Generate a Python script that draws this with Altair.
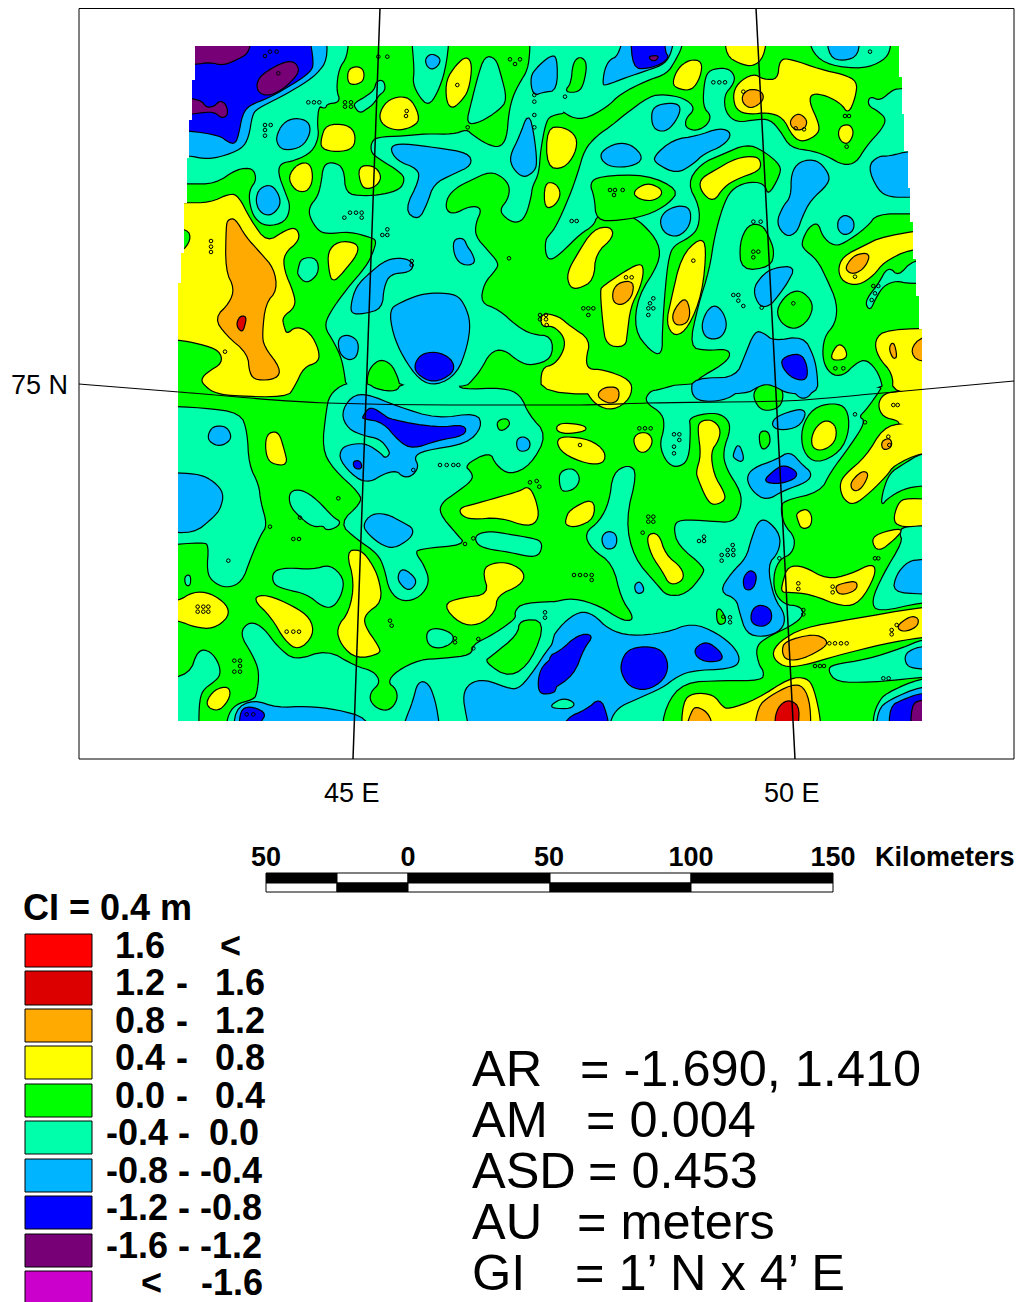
import altair as alt

FONT = "Liberation Sans"
# colour classes, legend order
LEGEND_COLORS = ["#ff0000", "#dd0000", "#ffaa00", "#ffff00", "#00ff00", "#00ffaa", "#00b4ff", "#0000ff", "#770077", "#cc00cc"]
LEGEND_LEFT = ["1.6", "1.2", "0.8", "0.4", "0.0", "-0.4", "-0.8", "-1.2", "-1.6", "<"]
LEGEND_DASH = ["", "-", "-", "-", "-", "-", "-", "-", "-", ""]
LEGEND_RIGHT = ["<", "1.6", "1.2", "0.8", "0.4", "0.0", "-0.4", "-0.8", "-1.2", "-1.6"]
LEGEND_TOPS = [934, 971, 1009, 1046, 1084, 1121, 1159, 1196, 1234, 1271]
LEGEND_BOTTOMS = [967, 1005, 1042, 1079, 1117, 1154, 1192, 1229, 1267, 1304]

# quadrant origins of the traced outlines (traced at 3x)
ORIGINS = {"NW": (170, 40), "NE": (550, 40), "SW": (170, 385), "SE": (550, 385)}

AQUA = {
"NW": [
"-30,-20 535,-20 530,50 505,85 497,150 510,185 470,190 465,205 445,195 440,250 445,290 425,335 375,360 330,368 322,400 345,460 360,500 345,545 290,558 255,535 240,490 240,450 262,420 250,382 200,385 135,430 55,430 -30,430",
"555,190 590,170 615,150 620,125 640,122 645,150 625,165 610,190 590,205 570,218 555,200",
"725,-20 735,90 730,130 750,170 775,195 800,160 825,90 838,-20",
"945,50 975,55 990,100 1010,180 985,210 930,245 890,252 905,190 925,110",
"1080,-20 1082,30 1075,90 1050,130 1030,170 1018,220 1012,295 990,325 950,315 905,285 890,270 850,285 770,283 700,290 620,293 605,310 605,335 620,350 700,400 705,425 690,450 640,465 580,470 525,462 520,385 490,368 462,375 455,430 445,470 420,500 420,530 445,570 470,580 540,573 600,590 622,600 610,640 590,680 530,750 480,820 465,860 490,900 515,950 525,1000 530,1040 590,1040 590,1010 600,980 630,955 665,970 685,1010 692,1040 885,1040 905,1020 930,990 960,935 1000,925 1050,965 1085,975 1145,955 1145,890 1085,885 1040,860 985,810 930,790 940,730 975,690 985,670 950,630 915,590 915,550 935,505 900,500 850,525 825,510 830,470 860,440 900,420 960,392 1000,410 1022,440 1015,480 990,510 1010,535 1040,548 1065,530 1082,470 1085,440 1105,400 1110,330 1125,250 1140,225 1200,215 1200,-20",
"385,690 395,655 440,655 445,700 410,730 385,705",
],
"NE": [
"-60,-20 398,-20 395,20 375,60 350,100 290,120 210,160 170,200 100,238 50,225 20,190 0,220 -60,215",
"775,-20 790,40 840,75 940,85 1000,60 1020,30 1020,-20",
"0,585 20,560 60,470 85,400 105,330 140,290 190,255 225,225 300,170 340,165 400,175 435,205 405,235 405,265 440,275 475,255 485,225 460,200 465,120 480,90 530,85 552,105 550,130 520,165 525,220 560,250 620,240 660,240 690,275 720,325 790,335 830,350 880,378 920,370 950,320 1000,265 1010,235 985,212 955,195 960,170 990,185 1030,150 1055,148 1200,130 1200,520 1085,520 980,520 950,560 880,610 850,615 820,590 805,545 775,560 755,600 755,625 800,660 830,720 860,790 855,850 820,890 815,960 840,1005 880,1010 920,970 950,960 985,1000 1000,1060 420,1060 440,1020 520,975 545,945 530,925 470,930 420,920 445,800 480,690 495,590 520,500 545,450 590,428 640,430 655,470 690,410 695,375 640,330 590,310 520,340 450,370 410,430 447,500 445,560 420,590 370,615 355,650 345,730 335,870 335,945 300,930 255,870 265,770 330,670 330,610 280,550 240,525 205,520 140,525 130,555 90,580 30,640 0,660 -12,640 -12,600",
"1200,650 1090,660 1045,712 1015,680 985,735 960,765 948,790 960,810 975,775 1000,735 1040,720 1075,730 1200,725",
],
"SW": [
"-30,65 100,70 210,85 230,140 235,240 265,300 270,350 290,420 270,450 240,520 215,590 170,608 130,590 112,560 118,480 100,470 -30,480",
"525,-5 480,30 470,80 458,190 490,250 572,325 575,355 510,415 560,460 625,505 645,550 660,620 700,650 750,635 778,590 760,540 735,505 745,490 885,478 860,450 805,385 815,350 860,320 905,285 905,265 880,240 960,197 980,240 1020,268 1080,240 1130,150 1075,90 1050,30 1000,10 870,15 865,-5 695,-5 680,22 620,15 590,-5",
"360,320 395,315 440,345 490,400 510,410 500,425 470,435 460,420 430,425 390,395 360,360",
"918,450 960,440 1020,450 1080,460 1115,470 1110,505 1085,515 1020,500 950,490 920,475",
"310,560 350,550 430,555 480,540 520,580 515,625 490,665 460,665 410,625 340,610 310,595",
"-30,885 60,870 85,795 120,800 145,835 150,870 130,890 95,915 85,960 85,1060 -30,1060",
"210,745 240,710 280,730 320,785 375,830 470,795 555,845 610,860 630,892 600,920 598,950 625,975 660,978 685,945 680,910 655,892 680,860 750,825 820,822 905,812 910,780 960,755 1000,730 1040,700 1035,680 1060,655 1200,650 1200,1060 170,1060 172,1000 195,960 250,945 262,930 270,860 250,810",
"45,575 60,570 60,600 48,600",
"770,740 800,730 845,745 850,770 810,790 775,780",
],
"SE": [
"-60,655 0,655 70,640 150,665 210,705 245,710 250,690 215,640 190,535 125,490 105,445 150,410 180,350 190,265 235,240 260,265 225,405 250,520 320,600 350,635 410,630 460,570 465,545 385,480 372,425 390,405 480,410 550,415 575,370 575,320 530,250 520,200 545,130 530,95 490,80 415,95 420,130 415,225 380,247 350,230 330,180 345,130 340,85 285,50 300,20 330,15 400,-5 1000,-5 975,35 945,75 925,95 945,110 900,180 840,260 810,320 700,345 690,370 700,420 735,460 725,505 690,520 670,560 670,620 700,660 750,665 760,690 725,720 640,760 615,790 625,840 640,860 635,885 520,885 400,890 345,960 330,1060 -60,1060",
"30,260 70,250 90,280 75,310 40,320 30,300",
"995,360 1000,320 1020,265 1060,240 1115,205 1200,200 1200,300 1115,300 1060,310 1010,340",
"1200,415 1060,425 1050,445 1060,470 1000,570 965,650 985,680 1115,650 1200,650",
"835,855 850,840 950,825 1060,790 1115,765 1200,760 1200,870 1115,875 1020,885 960,890 860,890",
"975,1060 970,1000 985,955 1010,925 1115,880 1200,880 1200,1060",
],
}

GREEN = {
"NE": [
"45,155 65,130 70,70 90,50 110,70 100,130 85,155",
"120,430 150,410 290,405 385,450 355,490 290,525 205,540 140,540 135,470",
"570,610 595,555 635,555 655,590 672,635 660,680 575,690",
"680,810 710,765 750,750 790,790 775,840 735,868 695,850",
],
"SW": [
"945,830 965,815 1045,750 1050,705 1125,708 1085,825 1020,878",
"980,110 1010,100 1020,120 990,140",
],
"SE": [
"610,30 625,5 650,-10 680,-5 700,25 690,65 650,77 625,65",
"755,130 790,70 850,55 890,70 897,135 870,200 800,235 760,200",
"630,140 655,140 660,175 640,195 630,175",
"500,680 510,670 530,710 505,720",
],
}

BLUE = {
"NW": [
"-30,-20 468,-20 470,60 440,100 400,130 330,170 260,205 245,225 235,290 215,325 150,350 100,355 60,345 -30,345",
"320,290 340,250 375,235 415,245 420,280 395,320 345,330 325,315",
"258,480 270,445 305,435 328,470 328,500 300,527 270,515",
"660,320 700,312 800,325 895,340 905,375 850,400 790,430 770,490 745,540 705,510 750,420 745,385 680,360",
"1020,350 1050,290 1075,220 1090,280 1100,370 1090,395 1060,412 1030,385",
"1082,110 1105,80 1140,50 1160,50 1160,150 1120,155 1090,165",
"768,55 785,42 810,55 805,75 785,88 770,75",
"850,600 880,595 890,620 905,640 915,670 880,675 855,650",
"660,810 690,790 750,765 800,760 860,765 885,800 900,850 890,920 860,1000 800,1035 750,1020 700,950 670,880",
"545,790 560,740 600,700 650,660 700,655 730,670 720,695 660,700 640,740 635,805 580,820 545,820",
"505,895 535,885 565,905 560,950 535,960 510,940",
],
"NE": [
"160,130 165,90 180,60 205,50 225,-20 370,-20 365,30 345,70 290,90 230,110 165,135",
"305,215 325,195 375,190 392,205 375,245 345,275 310,265",
"155,335 200,310 245,315 280,355 245,378 185,380 155,360",
"312,350 370,300 440,290 510,265 545,280 520,315 460,340 430,370 380,400 320,370",
"330,545 345,515 385,498 420,505 420,555 385,590 345,580",
"455,860 470,815 495,795 520,820 530,860 510,895 470,895",
"610,750 635,710 670,685 735,680 710,730 680,770 660,795 630,800",
"680,550 700,500 725,470 725,400 750,365 800,360 835,400 835,430 780,480 755,530 740,575 710,590",
"955,380 985,350 1020,350 1075,335 1200,335 1200,470 1085,470 1020,470 985,450",
"865,540 885,525 910,540 910,570 885,585 865,570",
"830,-20 925,-20 925,45 880,62 840,50",
"440,1060 470,1020 560,1010 585,950 615,875 640,880 670,905 760,890 790,950 800,1000 802,1060 715,1060 680,1040 650,1030 620,1040 590,1060",
],
"SW": [
"25,265 90,270 130,290 160,325 150,370 130,395 70,445 -30,435 -30,265",
"115,150 130,125 165,125 180,145 180,165 150,183 120,170",
"515,85 545,35 590,28 680,65 800,103 920,85 935,125 890,175 760,195 730,215 745,245 725,272 700,275 680,255 640,265 600,290 560,280 510,225 515,190 550,178 590,178 630,205 645,222 662,208 655,190 630,160 580,150 535,130",
"580,420 605,388 650,388 700,415 730,432 720,460 670,490 630,475 595,445",
"683,580 695,552 720,565 740,590 720,615 700,605",
"690,1060 710,1000 730,950 745,890 775,895 795,950 805,1010 810,1060",
"195,1060 195,975 250,945 320,970 410,965 500,975 590,1000 600,1060",
"880,930 900,895 945,885 1010,910 1045,915 1085,870 1140,785 1200,720 1200,1060 905,1060 890,990",
"1040,165 1060,155 1080,170 1075,195 1045,198",
],
"SE": [
"430,-20 580,-20 565,20 520,45 450,48 425,25",
"715,-20 800,-20 785,25 760,42 735,25",
"665,120 680,95 750,72 768,85 745,125 690,135",
"590,280 610,250 680,225 720,200 755,240 785,265 770,290 700,315 650,345 610,320",
"605,465 625,410 650,405 690,450 685,500 650,540 670,640 705,690 695,735 640,755 590,745 570,680 560,640 510,620 545,565 590,520",
"155,460 170,440 195,445 200,470 190,490 165,490",
"550,210 565,175 580,215 575,230 555,220",
"0,770 40,715 90,680 130,690 175,735 240,755 350,745 425,715 500,745 555,790 570,830 540,850 420,855 370,880 340,905 250,945 205,965 178,1005 178,1060 0,1060",
"1065,820 1075,800 1115,785 1200,785 1200,860 1115,850 1075,845",
"978,1060 985,975 1020,945 1115,905 1200,905 1200,1060",
"1030,620 1040,570 1075,530 1115,525 1200,525 1200,630 1115,625",
"255,600 270,590 282,615 270,625 258,620",
],
}

AQUA_TOP = {
"SE": ["5,960 40,940 75,955 60,970 10,968"],
}

DARK_BLUE = {
"NW": [
"-30,-20 415,-20 430,70 420,95 370,130 300,170 235,195 215,225 205,280 195,310 175,305 150,285 57,270 -30,270",
"735,970 760,940 810,938 850,965 848,1000 790,1028 740,1000",
],
"NE": [
"243,-20 340,-20 345,40 355,50 335,70 290,85 250,82",
"695,955 750,940 770,975 770,1020 730,1015 700,985",
],
"SW": [
"580,95 600,65 640,90 660,105 800,130 885,120 885,150 800,165 730,190 690,170 640,110 580,100",
"550,230 570,228 575,250 555,250",
"210,1060 210,985 230,965 270,975 285,990 270,1010 260,1060",
"1105,890 1115,850 1140,825 1160,815 1160,915 1140,925 1110,925",
],
"SE": [
"-5,815 30,800 85,750 130,750 100,790 70,870 0,915 -5,925",
"215,830 235,795 285,785 335,795 355,840 340,885 290,915 240,905 215,865",
"435,790 470,770 510,800 518,825 470,830 440,815",
"30,1060 50,1000 110,975 150,940 170,990 180,1060",
"640,290 670,260 700,240 740,260 735,280 690,295",
"580,580 600,555 620,570 610,610 585,615",
"605,680 625,660 660,670 665,705 640,725 605,715",
"1020,1060 1020,965 1060,945 1115,925 1200,925 1200,1060",
],
}

PURPLE = {
"NW": [
"-30,-20 245,-20 235,38 205,55 160,75 120,65 75,72 -30,72",
"260,135 275,105 335,70 370,65 385,85 380,105 340,145 300,165 270,160",
"-30,172 90,178 108,205 135,200 150,183 168,195 172,225 155,233 135,215 100,215 -30,235",
],
"NE": ["297,50 325,48 318,60 305,60"],
"SE": ["1085,1060 1085,960 1115,945 1200,945 1200,1060"],
}

YELLOW = {
"NW": [
"535,90 560,80 580,90 580,120 560,132 535,130",
"830,120 860,75 890,50 905,75 895,150 870,185 845,205 830,180",
"628,225 650,185 690,170 725,180 750,240 720,262 680,270 640,255",
"455,295 470,255 530,255 555,280 550,325 500,335 455,325",
"355,410 385,372 420,370 428,420 410,455 375,450",
"565,380 610,378 632,405 625,430 600,445 575,440",
"475,635 505,605 560,610 563,640 515,700 488,725 478,690",
"-30,490 42,490 120,490 180,462 205,470 240,540 290,610 350,570 380,565 388,600 340,640 340,690 370,760 375,800 335,830 340,860 350,885 380,860 420,880 445,930 445,965 400,980 372,1040 350,1070 180,1066 130,1055 105,1035 95,1020 110,1000 160,970 150,930 90,910 25,898 -30,898 -30,640 35,640 65,600 55,565 -30,560",
],
"NE": [
"-8,265 40,262 80,290 75,340 40,385 -8,380",
"-15,430 15,430 32,460 15,495 -15,505",
"368,130 385,85 420,60 455,65 450,110 425,150 385,145",
"527,-20 650,-20 640,50 610,78 570,70 530,45",
"550,165 565,130 610,102 640,120 685,120 690,60 720,58 810,90 880,105 920,125 915,170 895,220 875,190 830,165 785,158 775,185 805,250 805,280 760,305 730,290 700,230 650,215 600,222 560,210",
"450,420 490,395 560,355 620,350 632,370 625,392 560,415 520,440 490,485 455,455",
"160,740 210,705 270,670 280,690 270,740 240,800 230,880 225,920 170,915 160,850 152,750",
"250,455 290,430 330,445 335,465 305,482 265,475",
"52,700 85,640 130,570 180,560 190,590 135,640 130,720 85,745 60,740",
"365,780 395,650 450,595 468,620 455,760 415,860 375,890 350,850",
"975,900 1010,870 1200,865 1200,1060 1030,1060 1030,1000 985,950",
"865,690 880,650 940,620 1000,590 1200,560 1200,620 1080,625 1000,665 970,705 925,735 880,725",
"865,280 875,258 900,255 910,280 895,310 875,305",
"845,945 865,912 885,925 890,955 850,960",
"-25,820 25,830 60,860 120,900 105,960 115,990 160,990 240,1020 245,1060 -25,1060 -25,985 15,975 45,930 45,890 10,855 -25,860",
],
"SW": [
"288,165 300,143 325,143 340,190 352,240 305,235 290,210",
"870,370 910,360 980,340 1050,320 1075,305 1095,340 1107,400 1075,425 990,395 905,402 875,390",
"25,650 70,622 120,625 170,660 175,695 130,730 75,725 25,705 -30,700 -30,650",
"248,640 290,630 370,665 420,700 430,750 385,795 345,765 305,695",
"530,500 570,495 600,530 625,580 635,650 585,685 580,720 625,785 630,805 560,820 515,780 500,730 540,680 555,590",
"820,660 870,640 960,630 938,555 970,535 1020,535 1065,565 1050,600 980,630 975,680 925,720 870,715",
"110,950 135,915 175,905 180,935 150,975 120,970",
],
"SE": [
"100,-10 245,-10 240,40 190,75 140,60 110,20",
"985,60 1000,30 1030,22 1200,0 1200,115 1050,120 1045,105 1000,95",
"870,300 885,270 950,215 1000,130 1060,115 1200,110 1200,200 1115,200 1030,240 1010,270 960,320 910,360 880,340",
"1030,410 1045,355 1070,340 1200,350 1200,420 1115,420 1060,425",
"965,465 990,445 1060,430 1035,460 985,500",
"695,620 700,590 715,545 760,545 830,585 900,570 970,535 975,570 930,650 880,665 780,625 715,620",
"665,810 690,770 760,730 900,705 1115,668 1200,665 1200,750 1115,755 1000,775 860,810 760,840 700,845",
"395,1060 400,950 430,925 490,930 515,965 535,975 620,945 720,880 770,880 790,910 810,1000 810,1060",
"20,125 40,115 100,122 110,135 60,145 25,140",
"20,170 40,155 120,165 165,200 160,235 110,235 40,205",
"250,165 265,145 295,145 308,170 290,200 265,200",
"445,135 450,110 485,105 510,130 505,165 480,200 490,270 520,320 525,345 490,360 470,340 445,280 440,260 455,210",
"48,405 60,375 130,340 132,400 80,425 50,420",
"785,160 800,125 830,105 858,125 855,170 820,195 790,190",
"740,385 770,372 785,395 780,425 755,430 745,405",
"290,450 325,445 345,510 395,550 400,585 360,600 340,560 305,510",
],
}

ORANGE = {
"NW": ["170,560 175,540 195,537 225,590 270,640 310,685 320,750 285,790 275,880 280,920 330,985 320,1015 260,1020 240,1000 235,940 170,885 135,835 180,790 195,745 168,690"],
"NE": [
"578,165 600,148 635,155 640,180 605,205 580,190",
"722,240 745,220 770,240 765,262 745,270 725,260",
"190,750 210,728 250,725 245,770 215,795 190,785",
"367,820 405,770 420,815 410,850 375,855",
"888,680 915,645 960,640 945,680 915,700 895,695",
"1018,925 1030,905 1040,950 1030,955",
"1082,930 1115,890 1200,890 1200,960 1105,965",
],
"SE": [
"145,25 165,8 205,8 205,45 180,55 150,40",
"905,290 935,260 955,265 940,300 920,318 905,310",
"995,170 1020,160 1025,185 1000,195",
"855,605 885,595 920,590 918,615 870,630",
"697,800 705,770 790,748 830,765 825,785 760,820 710,825",
"1040,725 1080,695 1105,700 1100,725 1060,740",
"400,1060 425,980 440,965 480,990 490,1060",
"612,1060 625,965 660,935 725,900 760,905 780,960 780,1060",
],
}

DARK_RED = {
"NW": ["200,855 210,830 228,830 222,860 215,875"],
"SE": ["675,1000 690,960 720,945 750,970 735,1060 680,1060"],
}

# small closed contours
RINGS = {
"NW": "285,48 300,35 320,35 285,255 302,255 285,270 285,287 625,50 652,50 1020,58 1050,58 1035,72 415,187 432,187 448,187 525,187 543,187 525,200 543,200 1093,165 1093,185 1093,225 1093,262 893,262 123,603 123,620 123,636 540,518 558,518 575,518 523,533 575,533 652,568 652,585 637,585 725,663 725,675 165,935 1110,825 1128,825 1110,838 1128,838 1130,855 1017,655 862,135 710,213 708,228 325,100",
"NE": "508,127 490,127 525,127 45,170 960,35 65,543 80,543 610,545 632,545 610,635 625,635 610,652 115,805 100,805 130,805 115,825 300,790 310,775 295,805 310,805 295,825 565,782 550,765 565,765 580,798 635,803 885,228 897,228 890,320 856,985 880,985 730,790 580,155 737,265 762,268 245,712 228,712 180,450 195,450 218,450 192,465 430,662 915,710 970,738 985,738 975,760 965,780",
"SW": "810,240 830,240 850,240 865,240 1080,292 1100,288 1108,305 100,665 83,665 115,665 83,680 100,680 115,680 175,527 370,462 387,462 505,340 300,425 193,827 210,827 210,843 210,860 193,860 230,988 250,988 370,740 387,740 350,740 855,760 855,772 910,790 925,762 885,477 910,460 660,707 665,722 1125,682 1125,698 730,255 390,398",
"SE": "1043,60 1030,60 285,130 268,130 302,130 90,180 372,148 388,148 372,185 372,205 388,165 295,395 310,395 295,410 310,410 278,443 462,455 447,468 462,468 90,570 107,570 125,570 72,570 125,585 548,480 533,495 550,495 515,510 533,510 550,510 515,527 745,595 745,612 848,605 848,622 838,775 855,775 873,775 890,775 520,695 540,697 540,712 1015,155 1018,180 1040,720 1025,735 1025,748 1000,880 1016,880 810,843 795,843 822,843 915,88 945,112 985,520 975,520 688,520 760,675 760,688",
}

# outline of the gridded area (stepped edges)
DOMAIN = "195,46 899,46 899,77 902,77 902,114 904,114 904,151 908,151 908,188 910,188 910,222 913,222 913,259 916,259 916,296 919,296 919,329 922,329 922,721 178,721 178,283 181,283 181,253 184,253 184,203 187,203 187,158 189,158 189,120 192,120 192,80 195,80"
FRAME = "79,8.5 1014,8.5 1014,759 79,759"

# graticule
MERIDIAN_45_X = [380, 353]
MERIDIAN_45_Y = [8, 759]
MERIDIAN_50_X = [756, 795]
MERIDIAN_50_Y = [8, 759]
PARALLEL_X = [79, 179, 327, 450, 580, 647, 783, 883, 1014]
PARALLEL_Y = [384, 392, 403, 405, 405, 403, 401, 393, 381]

# scale bar
BAR_LABELS = ["50", "0", "50", "100", "150"]
BAR_EDGES = [266, 337, 408, 550, 691, 833]
BAR_LABEL_X = [266, 408, 549, 691, 833]

# statistics block
STAT_NAMES = ["AR", "AM", "ASD", "AU", "GI"]
STAT_VALUES = ["= -1.690, 1.410", "= 0.004", "= 0.453", "= meters", "= 1’ N x 4’ E"]
STAT_VALUE_X = [580, 586, 588, 577, 575]
STAT_BASE_Y = [1086, 1137, 1188, 1239, 1290]


def pts(s):
    return [[float(v) for v in p.split(",")] for p in s.split()]


def round_corners(r, passes=2):
    # rounds polygon corners when drawn (geoshape has no curve interpolation)
    for _ in range(passes):
        out = []
        for i, a in enumerate(r):
            b = r[(i + 1) % len(r)]
            out.append([0.75 * a[0] + 0.25 * b[0], 0.75 * a[1] + 0.25 * b[1]])
            out.append([0.25 * a[0] + 0.75 * b[0], 0.25 * a[1] + 0.75 * b[1]])
        r = out
    return r


def feature(rings):
    return {"type": "Feature", "properties": {}, "geometry": {"type": "Polygon", "coordinates": rings}}


def area(r):
    return sum(r[i][0] * r[(i + 1) % len(r)][1] - r[(i + 1) % len(r)][0] * r[i][1] for i in range(len(r)))


def closed(r):
    return r + [r[0]]


def page_features(table):
    out = []
    for q, polys in table.items():
        ox, oy = ORIGINS[q]
        for s in polys:
            r = [[ox + x / 3, oy + y / 3] for x, y in pts(s)]
            out.append(feature([closed(round_corners(r))]))
    return out


PROJ = dict(type="identity", scale=1, translate=[-8, -8])


def geo(features, fill, stroke=None, sw=2.4):
    data = alt.InlineData(values={"type": "FeatureCollection", "features": features},
                          format=alt.DataFormat(type="json", property="features"))
    kw = dict(fill=fill)
    if stroke:
        kw.update(stroke=stroke, strokeWidth=sw, strokeJoin="round")
    else:
        kw.update(strokeWidth=0)
    return alt.Chart(data).mark_geoshape(**kw).project(**PROJ)


PAGE_BOTTOM = 1302
PAGE_RIGHT = 1015
X = dict(scale=alt.Scale(domain=[8, PAGE_RIGHT], nice=False, zero=False), axis=None)
Y = dict(scale=alt.Scale(domain=[PAGE_BOTTOM, 8], nice=False, zero=False), axis=None)

layers = []
# base level
layers.append(geo([feature([closed(pts(DOMAIN))])], "#00ff00"))
for table, color in [(AQUA, "#00ffaa"), (GREEN, "#00ff00"), (BLUE, "#00b4ff"), (AQUA_TOP, "#00ffaa"),
                     (DARK_BLUE, "#0000ff"), (PURPLE, "#770077"), (YELLOW, "#ffff00"),
                     (ORANGE, "#ffaa00"), (DARK_RED, "#dd0000")]:
    fs = page_features(table)
    layers.append(geo(fs, color, "black"))
    layers.append(geo(fs, color))

# small rings
ring_rows = []
for q, s in RINGS.items():
    ox, oy = ORIGINS[q]
    ring_rows += [{"x": ox + x / 3, "y": oy + y / 3} for x, y in pts(s)]
layers.append(alt.Chart(alt.Data(values=ring_rows)).mark_point(size=13, filled=False, color="black", strokeWidth=1, opacity=1)
              .encode(x=alt.X("x:Q", **X), y=alt.Y("y:Q", **Y)))

# white mask outside the gridded area
outer = [[79, 8], [1014, 8], [1014, 759], [79, 759]]
inner = pts(DOMAIN)
if area(outer) * area(inner) > 0:
    inner = inner[::-1]
layers.append(geo([feature([closed(outer), closed(inner)])], "white"))

# frame
fx = pts(FRAME)
layers.append(alt.Chart(alt.Data(values=[{"x": fx[0][0], "x2": fx[1][0], "y": fx[0][1], "y2": fx[2][1]}]))
              .mark_rect(fill="transparent", stroke="black", strokeWidth=1, clip=False)
              .encode(x=alt.X("x:Q", **X), x2="x2:Q", y=alt.Y("y:Q", **Y), y2="y2:Q"))


def line(xs, ys, w=1.5):
    vals = [{"x": a, "y": b, "i": i} for i, (a, b) in enumerate(zip(xs, ys))]
    return alt.Chart(alt.Data(values=vals)).mark_line(color="black", strokeWidth=w, interpolate="monotone").encode(
        x=alt.X("x:Q", **X), y=alt.Y("y:Q", **Y), order="i:Q")


layers += [line(MERIDIAN_45_X, MERIDIAN_45_Y), line(MERIDIAN_50_X, MERIDIAN_50_Y), line(PARALLEL_X, PARALLEL_Y, 1.1)]


def texts(rows, size, bold=False, align="left"):
    return alt.Chart(alt.Data(values=rows)).mark_text(
        font=FONT, fontSize=size, fontWeight="bold" if bold else "normal", align=align, baseline="alphabetic",
        color="black", clip=False).encode(x=alt.X("x:Q", **X), y=alt.Y("y:Q", **Y), text="t:N")


# graticule labels
layers.append(texts([{"x": 11, "y": 394, "t": "75 N"}, {"x": 324, "y": 802, "t": "45 E"}, {"x": 764, "y": 802, "t": "50 E"}], 27))

# scale bar
bar = []
for i in range(5):
    tc = "black" if i % 2 == 0 else "white"
    bc = "white" if i % 2 == 0 else "black"
    bar.append({"x": BAR_EDGES[i], "x2": BAR_EDGES[i + 1], "y": 873, "y2": 883, "c": tc})
    bar.append({"x": BAR_EDGES[i], "x2": BAR_EDGES[i + 1], "y": 883, "y2": 892, "c": bc})
layers.append(alt.Chart(alt.Data(values=bar)).mark_rect(stroke="black", strokeWidth=1).encode(
    x=alt.X("x:Q", **X), x2="x2:Q", y=alt.Y("y:Q", **Y), y2="y2:Q", fill=alt.Fill("c:N", scale=None)))
layers.append(texts([{"x": a, "y": 866, "t": t} for a, t in zip(BAR_LABEL_X, BAR_LABELS)], 27, True, "center"))
layers.append(texts([{"x": 875, "y": 866, "t": "Kilometers"}], 27, True))

# legend
layers.append(texts([{"x": 23, "y": 920, "t": "CI = 0.4 m"}], 36, True))
sw = [{"x": 25, "x2": 92, "y": a, "y2": b, "c": c} for a, b, c in zip(LEGEND_TOPS, LEGEND_BOTTOMS, LEGEND_COLORS)]
layers.append(alt.Chart(alt.Data(values=sw)).mark_rect(stroke="black", strokeWidth=1).encode(
    x=alt.X("x:Q", **X), x2="x2:Q", y=alt.Y("y:Q", **Y), y2="y2:Q", fill=alt.Fill("c:N", scale=None)))
L_X = [165, 165, 165, 165, 165, 168, 168, 168, 168, 162]
D_X = [182, 182, 182, 182, 182, 184, 184, 184, 184, 184]
R_X = [241, 265, 265, 265, 265, 259, 262, 262, 262, 263]
left, dash, right = [], [], []
for i in range(10):
    y = LEGEND_TOPS[i] + 24
    left.append({"x": L_X[i], "y": y, "t": LEGEND_LEFT[i]})
    if LEGEND_DASH[i]:
        dash.append({"x": D_X[i], "y": y, "t": LEGEND_DASH[i]})
    right.append({"x": R_X[i], "y": y, "t": LEGEND_RIGHT[i]})
layers.append(texts(left, 36, True, "right"))
layers.append(texts(dash, 36, True, "center"))
layers.append(texts(right, 36, True, "right"))

# statistics
layers.append(texts([{"x": 472, "y": y, "t": t} for y, t in zip(STAT_BASE_Y, STAT_NAMES)], 50.5))
layers.append(texts([{"x": a, "y": y, "t": t} for a, y, t in zip(STAT_VALUE_X, STAT_BASE_Y, STAT_VALUES)], 50.5))

chart = alt.layer(*layers).properties(
    width=PAGE_RIGHT - 8, height=PAGE_BOTTOM - 8, padding=0, autosize=alt.AutoSizeParams(type="none"), background="white"
).configure_view(stroke=None)

chart.save("out.html", embed_options={"renderer": "svg", "actions": False})
